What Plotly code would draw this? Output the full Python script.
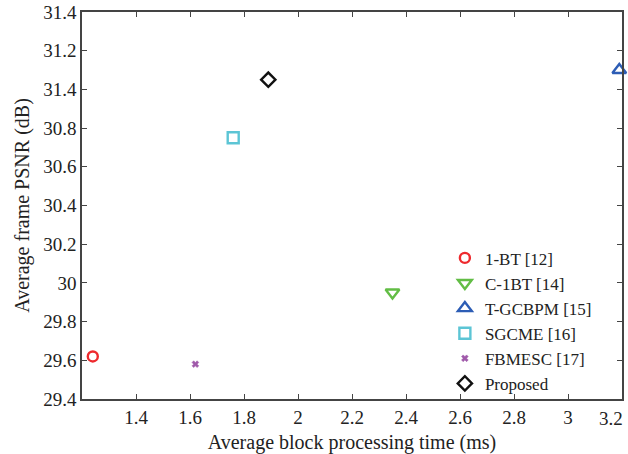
import plotly.graph_objects as go

methods = ["1-BT [12]", "C-1BT [14]", "T-GCBPM [15]", "SGCME [16]", "FBMESC [17]", "Proposed"]
time_ms = [1.24, 2.35, 3.19, 1.76, 1.62, 1.89]
psnr_db = [29.62, 29.95, 31.10, 30.75, 29.58, 31.05]
symbols = ["circle-open", "triangle-down-open", "triangle-up-open", "square-open", "x", "diamond-open"]
colors = ["#ee2a2e", "#62bd45", "#2d5db5", "#5cc5d5", "#a05aaa", "#111111"]
sizes = [10, 12, 12, 11, 6, 11]

x_ticks = [1.4, 1.6, 1.8, 2.0, 2.2, 2.4, 2.6, 2.8, 3.0, 3.2]
x_tick_labels = ["1.4", "1.6", "1.8", "2", "2.2", "2.4", "2.6", "2.8", "3", "3.2"]
y_ticks = [29.4, 29.6, 29.8, 30.0, 30.2, 30.4, 30.6, 30.8, 31.0, 31.2, 31.4]
y_tick_labels = ["29.4", "29.6", "29.8", "30", "30.2", "30.4", "30.6", "30.8", "31.4", "31.2", "31.4"]

font_family = "Liberation Serif, DejaVu Serif, serif"

fig = go.Figure()
for m, xv, yv, s, c, sz in zip(methods, time_ms, psnr_db, symbols, colors, sizes):
    fig.add_trace(go.Scatter(
        x=[xv], y=[yv], mode="markers", name=m,
        marker=dict(symbol=s, size=sz, color=c,
                    line=dict(width=2.4 if s != "x" else 0.5, color=c)),
        cliponaxis=False,
    ))

axis_common = dict(
    showline=True, linecolor="#444444", linewidth=1.5, mirror="ticks",
    ticks="inside", ticklen=5, tickwidth=1.2, tickcolor="#444444",
    showgrid=False, zeroline=False, automargin=False,
    ticklabeloverflow="allow",
    tickfont=dict(family=font_family, size=19, color="#222222"),
)

# last x tick label is drawn right-aligned at its tick (as in the reference) so it stays inside the page
x_text_shown = x_tick_labels[:-1] + [""]

fig.update_layout(
    width=628, height=454,
    margin=dict(l=82, r=6, t=12, b=55),
    paper_bgcolor="white", plot_bgcolor="white",
    font=dict(family=font_family, size=19, color="#222222"),
    xaxis=dict(range=[1.2, 3.2], tickvals=x_ticks, ticktext=x_text_shown,
               title=dict(text="Average block processing time (ms)", standoff=8,
                          font=dict(family=font_family, size=20)),
               **axis_common),
    yaxis=dict(range=[29.4, 31.4], tickvals=y_ticks, ticktext=y_tick_labels,
               title=dict(text="Average frame PSNR (dB)", standoff=8,
                          font=dict(family=font_family, size=20)),
               **axis_common),
    legend=dict(x=0.672, y=0.41, xanchor="left", yanchor="top",
                bgcolor="rgba(0,0,0,0)", borderwidth=0,
                font=dict(family=font_family, size=17, color="#222222"),
                tracegroupgap=0, itemwidth=30),
    showlegend=True,
)

fig.add_annotation(
    x=x_ticks[-1], xref="x", y=0, yref="paper",
    text=x_tick_labels[-1], showarrow=False,
    xanchor="right", yanchor="top", xshift=3, yshift=-7,
    font=dict(family=font_family, size=19, color="#222222"),
)

fig.write_html("out.html", config={"displayModeBar": False},
               post_script="document.body.style.margin='0';document.body.style.overflow='hidden';")
